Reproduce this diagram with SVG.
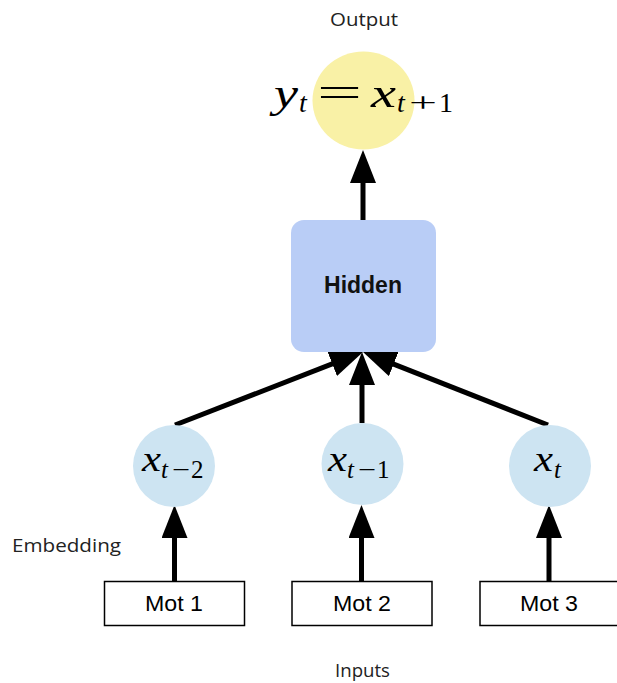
<svg xmlns="http://www.w3.org/2000/svg" width="617" height="683" viewBox="0 0 617 683">
  <defs>
    <marker id="head" viewBox="0 0 33 26" refX="13" refY="13" markerWidth="33" markerHeight="26" markerUnits="userSpaceOnUse" orient="auto">
      <path d="M0,0 L33,13 L0,26 z" fill="#000"/>
    </marker>
    <style>
      .label { font-family: "Open Sans", "Lato", sans-serif; font-size: 19px; fill: #222; }
      .word { font-family: "Liberation Sans", Arial, sans-serif; font-size: 22px; fill: #000; }
      .math { font-family: "Liberation Serif", "Times New Roman", serif; fill: #000; }
      .it { font-style: italic; }
      .emb { fill: #cde4f2; }
      .box { fill: #fff; stroke: #000; stroke-width: 1.5; }
      .edge { stroke: #000; stroke-width: 5; fill: none; marker-end: url(#head); }
    </style>
  </defs>

  <rect width="617" height="683" fill="#fff"/>

  <!-- side labels -->
  <text class="label" x="330" y="26" textLength="68" lengthAdjust="spacingAndGlyphs">Output</text>
  <text class="label" x="12" y="552" textLength="109" lengthAdjust="spacingAndGlyphs">Embedding</text>
  <text class="label" x="335" y="677" textLength="55" lengthAdjust="spacingAndGlyphs">Inputs</text>

  <!-- connectors -->
  <g id="connectors">
    <line class="edge" x1="363" y1="221" x2="363" y2="170"/>
    <line class="edge" x1="175" y1="425" x2="344.4" y2="359.2"/>
    <line class="edge" x1="362" y1="423" x2="362" y2="372"/>
    <line class="edge" x1="548" y1="425" x2="381.6" y2="359.3"/>
    <line class="edge" x1="174.5" y1="582" x2="174.5" y2="525"/>
    <line class="edge" x1="361.5" y1="582" x2="361.5" y2="525"/>
    <line class="edge" x1="549" y1="582" x2="549" y2="525"/>
  </g>

  <!-- output node: y_t = x_{t+1} -->
  <g id="output">
    <ellipse cx="363.5" cy="100.5" rx="51" ry="49" fill="#f9f1a6"/>
    <text class="math it" x="274" y="107" font-size="42" textLength="24" lengthAdjust="spacingAndGlyphs">y</text>
    <text class="math it" x="299" y="112" font-size="28">t</text>
    <text class="math" x="317" y="106" font-size="42" textLength="45" lengthAdjust="spacingAndGlyphs">=</text>
    <text class="math it" x="371" y="107" font-size="42" textLength="25" lengthAdjust="spacingAndGlyphs">x</text>
    <text class="math it" x="397" y="112" font-size="28">t</text>
    <text class="math" x="409" y="112" font-size="28" textLength="28" lengthAdjust="spacingAndGlyphs">+</text>
    <text class="math" x="439" y="112" font-size="28">1</text>
  </g>

  <!-- hidden node -->
  <g id="hidden">
    <rect x="291" y="220" width="145" height="132" rx="13" fill="#b9cdf6"/>
    <text x="363" y="293" text-anchor="middle" font-family="Liberation Sans, Arial, sans-serif" font-weight="bold" font-size="23" fill="#111">Hidden</text>
  </g>

  <!-- embedding nodes -->
  <g id="emb1">
    <circle class="emb" cx="174" cy="466" r="41"/>
    <text class="math it" x="142" y="471" font-size="35" textLength="19" lengthAdjust="spacingAndGlyphs">x</text>
    <text class="math it" x="161" y="478" font-size="25">t</text>
    <text class="math" x="172" y="478" font-size="25" textLength="18" lengthAdjust="spacingAndGlyphs">−</text>
    <text class="math" x="191" y="478" font-size="25">2</text>
  </g>
  <g id="emb2">
    <circle class="emb" cx="362.5" cy="464" r="41"/>
    <text class="math it" x="328" y="471" font-size="35" textLength="19" lengthAdjust="spacingAndGlyphs">x</text>
    <text class="math it" x="347" y="478" font-size="25">t</text>
    <text class="math" x="358" y="478" font-size="25" textLength="18" lengthAdjust="spacingAndGlyphs">−</text>
    <text class="math" x="377" y="478" font-size="25">1</text>
  </g>
  <g id="emb3">
    <circle class="emb" cx="550" cy="466" r="41"/>
    <text class="math it" x="534" y="471" font-size="35" textLength="19" lengthAdjust="spacingAndGlyphs">x</text>
    <text class="math it" x="554" y="478" font-size="25">t</text>
  </g>

  <!-- input words -->
  <g id="mot1">
    <rect class="box" x="104.5" y="581.5" width="140" height="44"/>
    <text class="word" x="145" y="611" textLength="58" lengthAdjust="spacingAndGlyphs">Mot 1</text>
  </g>
  <g id="mot2">
    <rect class="box" x="292" y="581.5" width="140" height="44"/>
    <text class="word" x="333" y="611" textLength="58" lengthAdjust="spacingAndGlyphs">Mot 2</text>
  </g>
  <g id="mot3">
    <rect class="box" x="480" y="581.5" width="140" height="44"/>
    <text class="word" x="520" y="611" textLength="58" lengthAdjust="spacingAndGlyphs">Mot 3</text>
  </g>
</svg>
